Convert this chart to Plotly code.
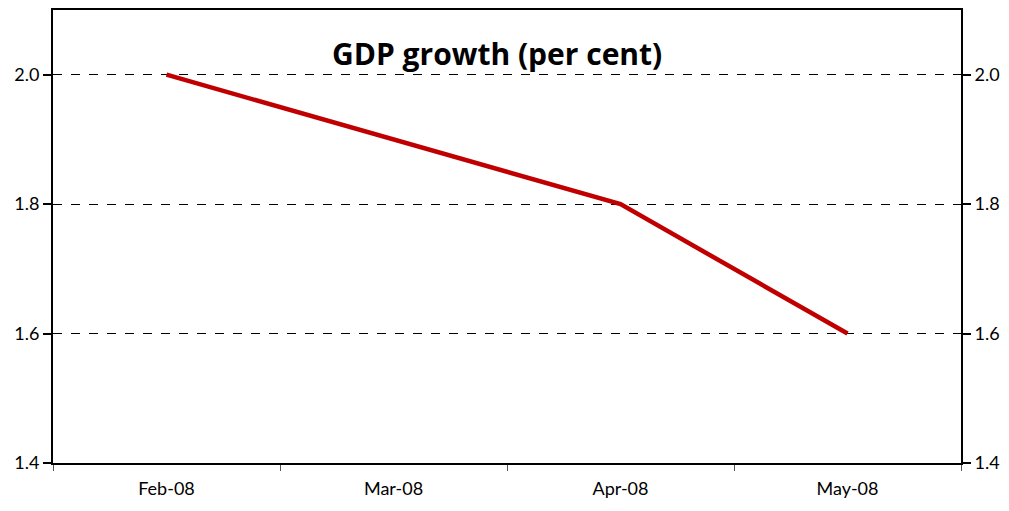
import plotly.graph_objects as go

months = ["Feb-08", "Mar-08", "Apr-08", "May-08"]
gdp_growth = [2.0, 1.9, 1.8, 1.6]
y_ticks = [1.4, 1.6, 1.8, 2.0]
title_text = "GDP growth (per cent)"

font_family = "Lato, 'Open Sans', sans-serif"
title_family = "'Open Sans', Lato, sans-serif"

fig = go.Figure()
fig.add_trace(go.Scatter(x=months, y=gdp_growth, mode="lines",
                         line=dict(color="#C00000", width=4.5),
                         showlegend=False, hoverinfo="skip"))
fig.add_trace(go.Scatter(x=months, y=gdp_growth, mode="lines", yaxis="y2",
                         line=dict(color="rgba(0,0,0,0)", width=0),
                         showlegend=False, hoverinfo="skip"))

yaxis_common = dict(range=[1.4, 2.1], tickvals=y_ticks, tickformat=".1f",
                    ticks="outside", ticklen=8, tickwidth=1.5, tickcolor="black",
                    showline=True, linecolor="black", linewidth=2,
                    tickfont=dict(family=font_family, size=18, color="black"),
                    zeroline=False, fixedrange=True)

fig.update_layout(
    width=1001, height=503,
    margin=dict(l=45, r=48, t=2, b=48, autoexpand=False),
    paper_bgcolor="white", plot_bgcolor="white",
    xaxis=dict(type="category", categoryorder="array", categoryarray=months,
               range=[-0.5, 3.5], tickson="boundaries", ticks="outside",
               ticklen=6, tickwidth=1, tickcolor="#555",
               showline=True, linecolor="black", linewidth=2, mirror=True,
               showgrid=False, ticklabelstandoff=8,
               tickfont=dict(family=font_family, size=18, color="black")),
    yaxis=dict(**yaxis_common, side="left", showgrid=True,
               gridcolor="black", gridwidth=1, griddash="dash"),
    yaxis2=dict(**yaxis_common, side="right", overlaying="y", showgrid=False),
    annotations=[dict(text="<b>" + title_text + "</b>", x=0.489, y=0.905,
                      xref="paper", yref="paper", showarrow=False,
                      xanchor="center", yanchor="middle",
                      font=dict(family=title_family, size=30, color="black"))],
)

fig.write_html("out.html")
